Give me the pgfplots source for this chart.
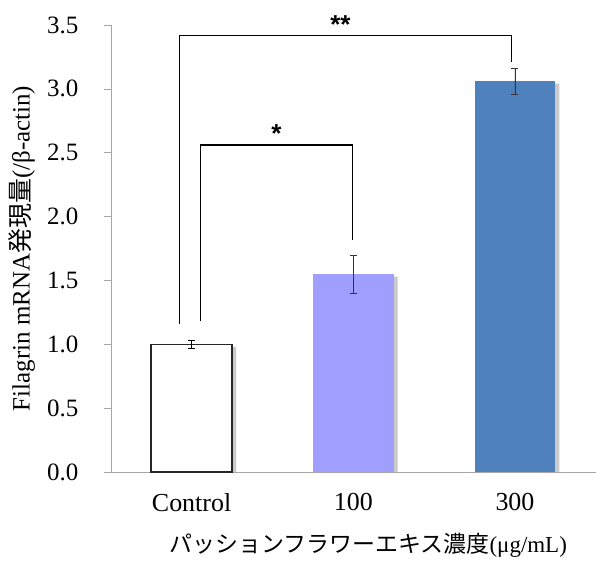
\documentclass[border=0pt]{standalone}
\usepackage{pgfplots}
\pgfplotsset{compat=1.18}
\usepackage{fontspec}
\setmainfont{Liberation Serif}
\newfontfamily\jp{Noto Sans CJK JP}
\newfontfamily\sans{Liberation Sans}
\definecolor{barpurple}{RGB}{160,158,255}
\definecolor{barblue}{RGB}{79,129,189}
\begin{document}
\begin{tikzpicture}
\begin{axis}[
  scale only axis, width=486pt, height=448pt,
  xmin=-0.5, xmax=2.5, ymin=0, ymax=3.5,
  clip=false,
  axis x line*=bottom, axis y line*=left,
  axis line style={gray!70,-},
  every tick/.style={gray!70, line width=0.6pt},
  tick align=outside,
  major tick length=7pt, minor tick length=8pt,
  ytick={0,0.5,1,1.5,2,2.5,3,3.5},
  yticklabel style={font=\fontsize{25}{29}\selectfont, /pgf/number format/fixed, /pgf/number format/fixed zerofill, /pgf/number format/precision=1, xshift=-22pt},
  xtick={0,1,2}, xticklabels={Control,100,300},
  x tick style={draw=none},
  minor xtick={-0.5,0.5,1.5,2.5},
  xticklabel style={font=\fontsize{26}{30}\selectfont, yshift=-11pt},
  /pgf/number format/assume math mode=true,
  xlabel={{\jp パッションフラワーエキス濃度}(μg/mL)},
  ylabel={Filagrin mRNA{\jp 発現量}(/β-actin)},
  xlabel style={font=\fontsize{23}{27}\selectfont, at={(axis description cs:0.5,0)}, anchor=center, yshift=-73pt, xshift=15pt},
  ylabel style={font=\fontsize{25}{29}\selectfont, at={(axis description cs:0,0.5)}, anchor=center, yshift=89pt},
  ybar, bar width=81pt,
]
% shadows
\addplot[fill=black!35, draw=none, bar shift=4pt, opacity=0.6] coordinates {(0,0.98) (1,1.53) (2,3.04)};
% bars
\addplot[fill=white, draw=black!85, line width=1.4pt, bar shift=0pt,
  error bars/.cd, y dir=both, y explicit, error bar style={black, line width=0.6pt}, error mark options={rotate=90, mark size=3.5pt, black, line width=0.6pt}]
  coordinates {(0,1.00) +- (0,0.03)};
\addplot[fill=barpurple, draw=none, bar shift=0pt,
  error bars/.cd, y dir=both, y explicit, error bar style={black!80, line width=0.6pt}, error mark options={rotate=90, mark size=3.5pt, black!80, line width=0.6pt}]
  coordinates {(1,1.55) +- (0,0.15)};
\addplot[fill=barblue, draw=none, bar shift=0pt,
  error bars/.cd, y dir=both, y explicit, error bar style={black!80, line width=0.6pt}, error mark options={rotate=90, mark size=3.5pt, black!80, line width=0.6pt}]
  coordinates {(2,3.06) +- (0,0.10)};
% significance brackets
\addplot[sharp plot, black, line width=1.3pt, forget plot] coordinates {(-0.074,1.16) (-0.074,3.42) (1.98,3.42) (1.98,3.21)};
\addplot[sharp plot, black, line width=1.3pt, forget plot] coordinates {(0.056,1.18) (0.056,2.56) (0.994,2.56) (0.994,1.82)};
\node[font=\sans\bfseries\fontsize{26}{30}\selectfont] at (axis cs:0.92,3.50) {**};
\node[font=\sans\bfseries\fontsize{26}{30}\selectfont] at (axis cs:0.525,2.65) {*};
\end{axis}
\path (current axis.south west) ++(-111pt,-88pt) rectangle ++(596pt,561pt);
\end{tikzpicture}
\end{document}
